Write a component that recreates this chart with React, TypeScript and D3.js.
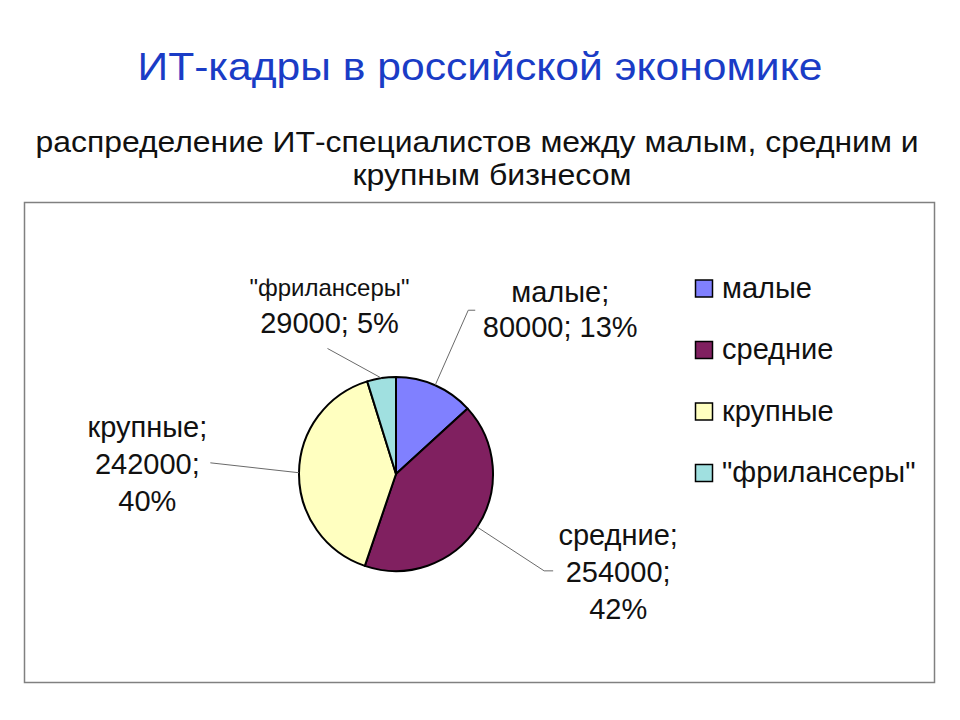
import { useEffect } from 'react';
import * as d3 from 'd3';

// chart data
const categories = ['малые', 'средние', 'крупные', '"фрилансеры"'];
const values = [80000, 254000, 242000, 29000];
const colors = ['#8080FF', '#802060', '#FFFFC0', '#A0E0E0'];

const title = 'ИТ-кадры в российской экономике';
const subtitleLines = ['распределение ИТ-специалистов между малым, средним и', 'крупным бизнесом'];

// label placement (leader line elbow in polar coords around the pie)
const labelLayout = [
  { angleShift: 0, radius: 179, tail: 7, dx: 85, dy: -8, split: 'two', nameSize: 29 },
  { angleShift: 0, radius: 177, tail: 9, dx: 65, dy: -26, split: 'three', nameSize: 29 },
  { angleShift: 2.7, radius: 186, tail: 0, dx: -63, dy: -26, split: 'three', nameSize: 29 },
  { angleShift: -20, radius: 143, tail: 0, dx: 2, dy: -52, split: 'free', nameSize: 24 },
];

const W = 960;
const H = 720;
const cx = 396;
const cy = 474;
const R = 97;
const FONT = 'Arial, "Liberation Sans", sans-serif';

function labelLines(i: number, pct: number): string[] {
  const name = categories[i];
  const v = values[i];
  const mode = labelLayout[i].split;
  if (mode === 'two') return [`${name};`, `${v}; ${pct}%`];
  if (mode === 'three') return [`${name};`, `${v};`, `${pct}%`];
  return [name, `${v}; ${pct}%`];
}

export default function App() {
  useEffect(() => {
    document.body.style.margin = '0';
  }, []);

  const total = d3.sum(values);
  const pie = d3.pie<number>().sort(null).value(d => d);
  const arcs = pie(values);
  const arc = d3.arc<d3.PieArcDatum<number>>().innerRadius(0).outerRadius(R);

  const polar = (a: number, r: number): [number, number] => [cx + r * Math.sin(a), cy - r * Math.cos(a)];

  return (
    <svg width={W} height={H} style={{ display: 'block', background: '#fff' }} fontFamily={FONT}>
      <text x={480} y={80} textAnchor="middle" fontSize={39} fill="#1a3cc6" textLength={685} lengthAdjust="spacingAndGlyphs">
        {title}
      </text>
      <text x={477} y={152} textAnchor="middle" fontSize={29} fill="#111" textLength={883} lengthAdjust="spacingAndGlyphs">
        {subtitleLines[0]}
      </text>
      <text x={492} y={185} textAnchor="middle" fontSize={29} fill="#111" textLength={279} lengthAdjust="spacingAndGlyphs">
        {subtitleLines[1]}
      </text>

      <rect x={24.5} y={202.5} width={910} height={480} fill="none" stroke="#808080" strokeWidth={1.5} />

      <g>
        {arcs.map((a, i) => (
          <path key={i} d={arc(a) || ''} transform={`translate(${cx},${cy})`} fill={colors[i]} stroke="#000" strokeWidth={2} strokeLinejoin="round" />
        ))}
      </g>

      <g>
        {arcs.map((a, i) => {
          const lay = labelLayout[i];
          const mid = (a.startAngle + a.endAngle) / 2;
          const start = polar(mid, R);
          const elbow = polar(mid + (lay.angleShift * Math.PI) / 180, lay.radius);
          const end: [number, number] = [elbow[0] + lay.tail, elbow[1]];
          const pct = Math.round((values[i] / total) * 100);
          const lines = labelLines(i, pct);
          const tx = end[0] + lay.dx;
          const ty = end[1] + lay.dy;
          const lineH = lay.split === 'two' ? 35 : 37;
          return (
            <g key={i}>
              <polyline points={[start, elbow, end].map(p => p.join(',')).join(' ')} fill="none" stroke="#6a6a6a" strokeWidth={1} />
              {lines.map((s, j) => (
                <text key={j} x={tx} y={ty + j * lineH} textAnchor="middle" fontSize={j === 0 ? lay.nameSize : 29} fill="#111">
                  {s}
                </text>
              ))}
            </g>
          );
        })}
      </g>

      <g>
        {categories.map((c, i) => {
          const y = 288.5 + i * 61.5;
          return (
            <g key={c}>
              <rect x={695.5} y={y - 8.5} width={17} height={17} fill={colors[i]} stroke="#000" strokeWidth={1.5} />
              <text x={722} y={y + 9} fontSize={29} fill="#111">{c}</text>
            </g>
          );
        })}
      </g>
    </svg>
  );
}
